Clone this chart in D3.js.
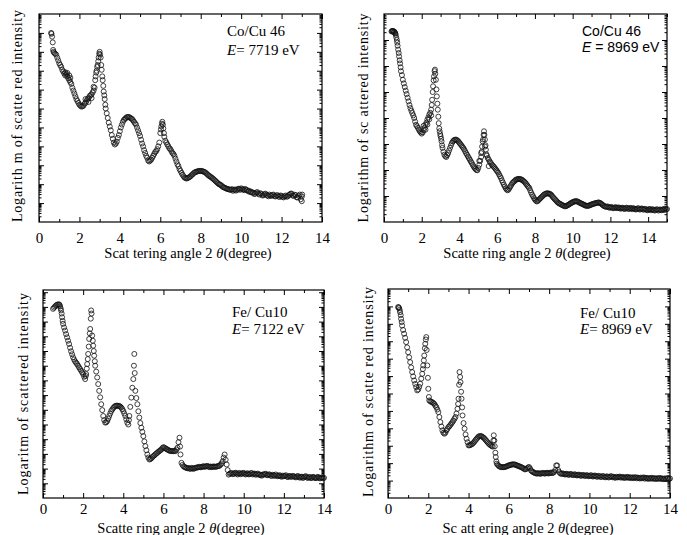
<!DOCTYPE html>
<html>
<head>
<meta charset="utf-8">
<script src="https://cdn.jsdelivr.net/npm/d3@7"></script>
<style>
  body { margin: 0; background: #fff; }
  text { font-family: "Liberation Serif", "Times New Roman", serif; fill: #000; }
  .axis path { display: none; }
  .axis line { stroke: #000; stroke-width: 1; }
  .axis text { font-size: 15px; font-family: "Liberation Serif", serif; }
</style>
</head>
<body>
<svg></svg>
<script>

var width = 687;
var height = 535;

// [scattering angle 2theta (deg), log10 of intensity (arb.)]
var coCu7719 = [
  [0.60,10.0],[0.62,9.95],[0.65,9.8],[0.68,9.5],[0.70,9.1],[0.72,9.0],[0.75,8.95],[0.80,8.9],[0.85,8.85],[0.90,8.7],
  [0.95,8.55],[1.00,8.4],[1.05,8.3],[1.10,8.2],[1.15,8.05],[1.20,7.95],[1.25,7.85],[1.30,7.75],[1.30,7.92],[1.35,7.82],
  [1.40,7.7],[1.40,7.88],[1.45,7.6],[1.50,7.5],[1.50,7.75],[1.55,7.4],[1.55,7.62],[1.60,7.3],[1.65,7.1],[1.70,6.95],
  [1.75,6.8],[1.80,6.65],[1.85,6.5],[1.90,6.4],[1.95,6.3],[2.00,6.2],[2.05,6.15],[2.10,6.1],[2.15,6.12],[2.20,6.15],
  [2.25,6.25],[2.30,6.3],[2.30,6.5],[2.35,6.4],[2.40,6.5],[2.45,6.55],[2.45,6.35],[2.50,6.65],[2.55,6.7],[2.60,6.75],
  [2.60,6.55],[2.65,6.85],[2.70,6.95],[2.70,7.15],[2.75,7.1],[2.78,7.5],[2.80,7.7],[2.83,7.9],[2.85,8.0],[2.88,8.2],
  [2.90,8.3],[2.93,8.5],[2.95,8.7],[2.98,8.9],[3.00,9.0],[3.02,8.85],[3.05,8.7],[3.08,8.3],[3.10,8.05],[3.13,7.7],
  [3.15,7.5],[3.18,7.2],[3.20,6.9],[3.23,6.7],[3.25,6.5],[3.28,6.2],[3.30,6.0],[3.35,5.75],[3.40,5.5],[3.45,5.25],
  [3.50,5.05],[3.55,4.85],[3.60,4.6],[3.65,4.4],[3.70,4.2],[3.75,4.1],[3.80,4.15],[3.85,4.25],[3.90,4.45],[3.95,4.6],
  [4.00,4.8],[4.05,5.0],[4.10,5.15],[4.15,5.3],[4.20,5.4],[4.25,5.45],[4.30,5.5],[4.35,5.55],[4.40,5.55],[4.45,5.55],
  [4.50,5.52],[4.55,5.48],[4.60,5.45],[4.65,5.38],[4.70,5.3],[4.75,5.22],[4.80,5.15],[4.85,5.0],[4.90,4.85],[4.95,4.7],
  [5.00,4.55],[5.05,4.35],[5.10,4.15],[5.15,4.0],[5.20,3.8],[5.25,3.65],[5.30,3.5],[5.35,3.4],[5.40,3.25],[5.45,3.2],
  [5.50,3.25],[5.55,3.3],[5.60,3.4],[5.65,3.5],[5.70,3.6],[5.75,3.7],[5.80,3.75],[5.85,3.85],[5.90,4.0],[5.95,4.2],
  [6.00,4.7],[6.03,4.9],[6.05,5.05],[6.08,5.2],[6.10,5.3],[6.13,5.15],[6.15,4.95],[6.18,4.7],[6.20,4.5],[6.25,4.3],
  [6.30,4.2],[6.35,4.1],[6.40,4.0],[6.45,3.9],[6.50,3.85],[6.55,3.75],[6.60,3.65],[6.65,3.6],[6.70,3.5],[6.75,3.35],
  [6.80,3.2],[6.85,3.05],[6.90,2.95],[6.95,2.8],[7.00,2.7],[7.05,2.6],[7.10,2.5],[7.15,2.42],[7.20,2.35],[7.25,2.32],
  [7.30,2.3],[7.35,2.32],[7.40,2.35],[7.45,2.38],[7.50,2.42],[7.55,2.48],[7.60,2.52],[7.65,2.58],[7.70,2.62],[7.75,2.65],
  [7.80,2.66],[7.85,2.68],[7.90,2.7],[7.95,2.7],[8.00,2.7],[8.05,2.7],[8.10,2.68],[8.15,2.66],[8.20,2.64],[8.25,2.6],
  [8.30,2.55],[8.35,2.5],[8.40,2.45],[8.45,2.42],[8.50,2.38],[8.55,2.34],[8.60,2.3],[8.65,2.25],[8.70,2.2],[8.75,2.15],
  [8.80,2.1],[8.85,2.05],[8.90,2.0],[8.95,1.98],[9.00,1.95],[9.05,1.9],[9.10,1.85],[9.15,1.83],[9.20,1.8],[9.25,1.78],
  [9.30,1.75],[9.35,1.74],[9.40,1.72],[9.45,1.71],[9.50,1.7],[9.55,1.74],[9.60,1.65],[9.65,1.7],[9.70,1.72],[9.75,1.66],
  [9.80,1.7],[9.85,1.76],[9.90,1.75],[9.95,1.7],[10.00,1.78],[10.05,1.74],[10.10,1.72],[10.15,1.68],[10.20,1.75],[10.25,1.7],
  [10.30,1.68],[10.35,1.62],[10.40,1.65],[10.45,1.58],[10.50,1.6],[10.55,1.55],[10.60,1.55],[10.65,1.48],[10.70,1.5],[10.75,1.56],
  [10.80,1.58],[10.85,1.5],[10.90,1.45],[10.95,1.52],[11.00,1.48],[11.05,1.4],[11.10,1.42],[11.15,1.47],[11.20,1.5],[11.25,1.44],
  [11.30,1.4],[11.35,1.36],[11.40,1.45],[11.45,1.4],[11.50,1.38],[11.55,1.43],[11.60,1.45],[11.65,1.37],[11.70,1.35],[11.75,1.4],
  [11.80,1.42],[11.85,1.35],[11.90,1.32],[11.95,1.4],[12.00,1.38],[12.05,1.33],[12.10,1.3],[12.15,1.36],[12.20,1.4],[12.25,1.34],
  [12.30,1.35],[12.35,1.42],[12.40,1.45],[12.45,1.5],[12.50,1.5],[12.55,1.4],[12.60,1.38],[12.65,1.44],[12.70,1.42],[12.75,1.3],
  [12.80,1.3],[12.85,1.38],[12.90,1.45],[12.95,1.2],[13.00,1.35],[13.00,1.1],[13.02,1.45]
];

var coCu8969 = [
  [0.40,7.33],[0.43,7.35],[0.45,7.33],[0.48,7.35],[0.50,7.33],[0.53,7.3],[0.55,7.32],[0.58,7.28],[0.60,7.25],[0.62,7.2],
  [0.65,7.1],[0.68,7.0],[0.70,6.9],[0.72,6.78],[0.75,6.63],[0.78,6.5],[0.80,6.37],[0.83,6.22],[0.85,6.1],[0.88,5.95],
  [0.90,5.8],[0.95,5.65],[1.00,5.47],[1.05,5.33],[1.10,5.19],[1.15,5.05],[1.20,4.92],[1.25,4.78],[1.30,4.64],[1.35,4.5],
  [1.40,4.38],[1.45,4.28],[1.50,4.19],[1.55,4.1],[1.60,4.0],[1.65,3.86],[1.70,3.74],[1.75,3.68],[1.80,3.62],[1.85,3.55],
  [1.90,3.49],[1.95,3.44],[2.00,3.4],[2.05,3.45],[2.10,3.53],[2.10,3.7],[2.15,3.62],[2.20,3.74],[2.20,3.55],[2.25,3.82],
  [2.30,3.94],[2.30,3.75],[2.35,4.02],[2.40,4.13],[2.40,3.95],[2.45,4.2],[2.50,4.32],[2.50,4.1],[2.53,4.5],[2.55,4.7],
  [2.58,5.0],[2.60,5.22],[2.63,5.45],[2.65,5.6],[2.68,5.8],[2.70,5.86],[2.72,5.7],[2.75,5.47],[2.78,5.1],[2.80,4.83],
  [2.83,4.55],[2.85,4.32],[2.88,4.05],[2.90,3.8],[2.93,3.6],[2.95,3.49],[2.98,3.38],[3.00,3.3],[3.03,3.2],[3.05,3.1],
  [3.08,2.95],[3.10,2.85],[3.15,2.7],[3.20,2.59],[3.25,2.53],[3.30,2.5],[3.35,2.57],[3.40,2.65],[3.45,2.75],[3.50,2.85],
  [3.55,2.95],[3.60,3.04],[3.65,3.1],[3.70,3.14],[3.75,3.16],[3.80,3.17],[3.85,3.16],[3.90,3.13],[3.95,3.09],[4.00,3.04],
  [4.05,3.0],[4.10,2.95],[4.15,2.9],[4.20,2.85],[4.25,2.79],[4.30,2.72],[4.35,2.65],[4.40,2.59],[4.45,2.52],[4.50,2.46],
  [4.55,2.4],[4.60,2.33],[4.65,2.27],[4.70,2.2],[4.75,2.14],[4.80,2.08],[4.85,2.04],[4.90,2.0],[4.95,1.99],[5.00,2.08],
  [5.05,2.2],[5.05,2.35],[5.10,2.35],[5.15,2.5],[5.15,2.65],[5.18,2.7],[5.20,2.9],[5.23,3.1],[5.25,3.17],[5.28,3.35],
  [5.30,3.49],[5.32,3.35],[5.35,3.17],[5.35,2.9],[5.38,2.95],[5.40,2.78],[5.43,2.6],[5.45,2.55],[5.50,2.46],[5.55,2.4],
  [5.55,2.15],[5.60,2.33],[5.65,2.28],[5.70,2.22],[5.75,2.18],[5.80,2.14],[5.85,2.1],[5.90,2.05],[5.95,2.0],[6.00,1.95],
  [6.05,1.9],[6.10,1.83],[6.15,1.76],[6.20,1.69],[6.25,1.6],[6.30,1.52],[6.35,1.44],[6.40,1.37],[6.45,1.3],[6.50,1.25],
  [6.55,1.22],[6.60,1.25],[6.65,1.31],[6.70,1.37],[6.75,1.43],[6.80,1.49],[6.85,1.53],[6.90,1.56],[6.95,1.6],[7.00,1.63],
  [7.05,1.64],[7.10,1.65],[7.15,1.66],[7.20,1.65],[7.25,1.64],[7.30,1.63],[7.35,1.6],[7.40,1.57],[7.45,1.54],[7.50,1.5],
  [7.55,1.45],[7.60,1.4],[7.65,1.35],[7.70,1.31],[7.75,1.22],[7.80,1.13],[7.85,1.05],[7.90,0.99],[7.95,0.92],[8.00,0.86],
  [8.05,0.82],[8.10,0.79],[8.15,0.81],[8.20,0.85],[8.25,0.89],[8.30,0.92],[8.35,0.96],[8.40,0.99],[8.45,1.03],[8.50,1.06],
  [8.55,1.08],[8.60,1.1],[8.65,1.1],[8.70,1.1],[8.75,1.09],[8.80,1.08],[8.85,1.05],[8.90,1.01],[8.95,0.96],[9.00,0.92],
  [9.05,0.88],[9.10,0.84],[9.15,0.8],[9.20,0.76],[9.25,0.73],[9.30,0.71],[9.35,0.69],[9.40,0.67],[9.45,0.65],[9.50,0.63],
  [9.55,0.62],[9.60,0.6],[9.65,0.61],[9.70,0.63],[9.75,0.65],[9.80,0.67],[9.85,0.7],[9.90,0.72],[9.95,0.74],[10.00,0.76],
  [10.05,0.78],[10.10,0.79],[10.15,0.8],[10.20,0.8],[10.25,0.79],[10.30,0.77],[10.35,0.75],[10.40,0.73],[10.45,0.71],[10.50,0.7],
  [10.55,0.68],[10.60,0.66],[10.65,0.64],[10.70,0.63],[10.75,0.62],[10.80,0.62],[10.85,0.63],[10.90,0.64],[10.95,0.66],[11.00,0.67],
  [11.05,0.69],[11.10,0.7],[11.15,0.71],[11.20,0.72],[11.25,0.73],[11.30,0.74],[11.35,0.75],[11.40,0.75],[11.45,0.73],[11.50,0.71],
  [11.55,0.68],[11.60,0.65],[11.65,0.62],[11.70,0.6],[11.75,0.59],[11.80,0.58],[11.85,0.6],[11.90,0.57],[11.95,0.55],[12.00,0.56],
  [12.05,0.58],[12.10,0.55],[12.15,0.53],[12.20,0.54],[12.25,0.57],[12.30,0.56],[12.35,0.53],[12.40,0.55],[12.45,0.56],[12.50,0.53],
  [12.55,0.51],[12.60,0.54],[12.65,0.55],[12.70,0.52],[12.75,0.5],[12.80,0.52],[12.85,0.55],[12.90,0.54],[12.95,0.5],[13.00,0.51],
  [13.05,0.54],[13.10,0.53],[13.15,0.49],[13.20,0.53],[13.25,0.52],[13.30,0.5],[13.35,0.48],[13.40,0.5],[13.45,0.53],[13.50,0.52],
  [13.55,0.48],[13.60,0.49],[13.65,0.52],[13.70,0.51],[13.75,0.47],[13.80,0.5],[13.85,0.5],[13.90,0.48],[13.95,0.45],[14.00,0.47],
  [14.05,0.5],[14.10,0.49],[14.15,0.45],[14.20,0.48],[14.25,0.49],[14.30,0.46],[14.35,0.44],[14.40,0.46],[14.45,0.49],[14.50,0.48],
  [14.55,0.44],[14.60,0.47],[14.65,0.48],[14.70,0.45],[14.75,0.47],[14.80,0.49],[14.85,0.46],[14.90,0.52],[14.95,0.48],[15.00,0.5]
];

var feCu7122 = [
  [0.50,12.87],[0.55,12.95],[0.60,13.03],[0.65,13.1],[0.70,13.15],[0.75,13.17],[0.80,13.17],[0.83,13.12],[0.85,13.03],[0.88,12.9],
  [0.90,12.76],[0.93,12.55],[0.95,12.3],[0.98,12.05],[1.00,11.85],[1.05,11.6],[1.10,11.39],[1.15,11.15],[1.20,10.93],[1.25,10.7],
  [1.30,10.48],[1.35,10.22],[1.40,9.98],[1.45,9.78],[1.50,9.57],[1.55,9.42],[1.60,9.29],[1.65,9.2],[1.70,9.11],[1.75,9.0],
  [1.80,8.88],[1.85,8.77],[1.90,8.66],[1.95,8.55],[2.00,8.43],[2.05,8.25],[2.10,8.09],[2.13,8.3],[2.15,8.43],[2.18,8.8],
  [2.20,9.11],[2.23,9.45],[2.25,9.8],[2.28,10.3],[2.30,10.82],[2.33,11.2],[2.35,11.5],[2.38,12.2],[2.40,12.76],[2.42,12.55],
  [2.45,11.05],[2.48,10.7],[2.50,10.36],[2.53,10.0],[2.55,9.68],[2.58,9.3],[2.60,9.0],[2.65,8.6],[2.70,8.2],[2.75,7.75],
  [2.80,7.29],[2.85,6.85],[2.90,6.38],[2.95,5.98],[3.00,5.58],[3.05,5.3],[3.10,5.13],[3.15,5.15],[3.20,5.24],[3.25,5.4],
  [3.30,5.58],[3.35,5.75],[3.40,5.92],[3.45,6.02],[3.50,6.12],[3.55,6.2],[3.60,6.26],[3.65,6.28],[3.70,6.28],[3.75,6.27],
  [3.80,6.26],[3.85,6.22],[3.90,6.15],[3.95,6.05],[4.00,5.92],[4.05,5.75],[4.10,5.58],[4.15,5.35],[4.20,5.13],[4.25,5.0],
  [4.28,5.3],[4.30,5.58],[4.35,6.2],[4.40,6.83],[4.45,7.5],[4.50,8.09],[4.53,9.0],[4.55,9.8],[4.57,8.5],[4.60,7.29],
  [4.65,6.8],[4.70,6.38],[4.75,5.9],[4.80,5.47],[4.85,5.1],[4.90,4.78],[4.95,4.5],[5.00,4.21],[5.05,3.85],[5.10,3.53],
  [5.15,3.25],[5.20,2.96],[5.25,2.75],[5.30,2.62],[5.35,2.65],[5.40,2.7],[5.45,2.78],[5.50,2.85],[5.55,2.9],[5.60,2.97],
  [5.65,3.03],[5.70,3.08],[5.75,3.15],[5.80,3.2],[5.85,3.25],[5.90,3.3],[5.95,3.4],[6.00,3.46],[6.05,3.42],[6.10,3.38],
  [6.15,3.33],[6.20,3.3],[6.25,3.25],[6.30,3.22],[6.35,3.2],[6.40,3.19],[6.45,3.2],[6.50,3.18],[6.55,3.2],[6.60,3.19],
  [6.65,3.3],[6.70,3.42],[6.75,3.8],[6.80,4.1],[6.83,3.5],[6.85,2.96],[6.90,2.39],[6.95,2.25],[7.00,2.16],[7.05,2.1],
  [7.10,2.08],[7.15,2.05],[7.20,2.02],[7.25,2.04],[7.30,2.0],[7.35,1.98],[7.40,2.05],[7.45,2.02],[7.50,1.98],[7.55,2.03],
  [7.60,2.05],[7.65,2.07],[7.70,2.08],[7.75,2.1],[7.80,2.12],[7.85,2.09],[7.90,2.1],[7.95,2.14],[8.00,2.16],[8.05,2.12],
  [8.10,2.14],[8.15,2.17],[8.20,2.18],[8.25,2.13],[8.30,2.1],[8.35,2.14],[8.40,2.1],[8.45,2.12],[8.50,2.15],[8.55,2.13],
  [8.60,2.12],[8.65,2.14],[8.70,2.16],[8.75,2.18],[8.80,2.2],[8.85,2.28],[8.90,2.35],[8.95,2.5],[9.00,2.75],[9.05,2.96],
  [9.10,2.6],[9.15,2.28],[9.20,1.9],[9.25,1.59],[9.30,1.65],[9.35,1.68],[9.40,1.7],[9.45,1.62],[9.50,1.64],[9.55,1.69],
  [9.60,1.72],[9.65,1.66],[9.70,1.6],[9.75,1.67],[9.80,1.7],[9.85,1.62],[9.90,1.65],[9.95,1.69],[10.00,1.71],[10.05,1.64],
  [10.10,1.6],[10.15,1.66],[10.20,1.68],[10.25,1.61],[10.30,1.62],[10.35,1.68],[10.40,1.7],[10.45,1.6],[10.50,1.64],[10.55,1.66],
  [10.60,1.58],[10.65,1.63],[10.70,1.66],[10.75,1.58],[10.80,1.6],[10.85,1.55],[10.90,1.52],[10.95,1.6],[11.00,1.59],[11.05,1.62],
  [11.10,1.65],[11.15,1.56],[11.20,1.55],[11.25,1.6],[11.30,1.6],[11.35,1.52],[11.40,1.5],[11.45,1.58],[11.50,1.55],[11.55,1.5],
  [11.60,1.6],[11.65,1.53],[11.70,1.48],[11.75,1.52],[11.80,1.55],[11.85,1.47],[11.90,1.45],[11.95,1.52],[12.00,1.48],[12.05,1.5],
  [12.10,1.55],[12.15,1.46],[12.20,1.42],[12.25,1.48],[12.30,1.5],[12.35,1.44],[12.40,1.45],[12.45,1.5],[12.50,1.48],[12.55,1.43],
  [12.60,1.4],[12.65,1.46],[12.70,1.5],[12.75,1.42],[12.80,1.38],[12.85,1.44],[12.90,1.45],[12.95,1.36],[13.00,1.41],[13.05,1.46],
  [13.10,1.48],[13.15,1.4],[13.20,1.36],[13.25,1.42],[13.30,1.42],[13.35,1.35],[13.40,1.38],[13.45,1.44],[13.50,1.41],[13.55,1.36],
  [13.60,1.35],[13.65,1.4],[13.70,1.44],[13.75,1.37],[13.80,1.33],[13.85,1.38],[13.90,1.4],[13.95,1.34],[14.00,1.37]
];

var feCu8969 = [
  [0.50,10.96],[0.53,10.95],[0.55,10.9],[0.58,10.8],[0.60,10.67],[0.63,10.5],[0.65,10.29],[0.68,10.1],[0.70,9.9],[0.75,9.65],
  [0.80,9.43],[0.85,9.2],[0.90,8.95],[0.95,8.65],[1.00,8.37],[1.05,8.08],[1.10,7.8],[1.15,7.5],[1.20,7.23],[1.25,6.98],
  [1.30,6.75],[1.35,6.55],[1.40,6.37],[1.45,6.18],[1.50,6.23],[1.55,6.38],[1.60,6.56],[1.65,6.85],[1.70,7.13],[1.73,7.4],
  [1.75,7.61],[1.78,7.9],[1.80,8.18],[1.83,8.6],[1.85,8.85],[1.88,9.1],[1.90,9.24],[1.92,8.5],[1.95,7.61],[1.98,6.9],
  [2.00,6.27],[2.03,5.8],[2.05,5.6],[2.10,5.55],[2.15,5.52],[2.20,5.5],[2.25,5.45],[2.30,5.4],[2.35,5.3],[2.40,5.22],
  [2.45,5.08],[2.50,4.93],[2.55,4.65],[2.60,4.36],[2.65,4.1],[2.70,3.88],[2.75,3.75],[2.80,3.69],[2.85,3.75],[2.90,3.88],
  [2.95,3.97],[3.00,4.07],[3.05,4.12],[3.10,4.2],[3.15,4.28],[3.20,4.36],[3.25,4.45],[3.30,4.55],[3.35,4.65],[3.40,4.85],
  [3.45,5.12],[3.48,5.4],[3.50,5.7],[3.53,6.5],[3.55,7.23],[3.58,6.95],[3.60,6.65],[3.63,6.1],[3.65,5.7],[3.68,5.2],
  [3.70,4.74],[3.75,4.3],[3.80,3.98],[3.85,3.65],[3.90,3.4],[3.95,3.2],[4.00,3.02],[4.05,3.03],[4.10,3.05],[4.15,3.08],
  [4.20,3.12],[4.25,3.18],[4.30,3.25],[4.35,3.33],[4.40,3.4],[4.45,3.47],[4.50,3.53],[4.55,3.55],[4.60,3.56],[4.65,3.54],
  [4.70,3.5],[4.75,3.46],[4.80,3.4],[4.85,3.33],[4.90,3.26],[4.95,3.19],[5.00,3.12],[5.05,3.07],[5.10,3.02],[5.15,2.98],
  [5.20,2.95],[5.23,3.3],[5.25,3.6],[5.28,3.3],[5.30,2.97],[5.33,2.6],[5.35,2.35],[5.38,2.1],[5.40,1.97],[5.45,1.9],
  [5.50,1.84],[5.55,1.8],[5.60,1.78],[5.65,1.77],[5.70,1.77],[5.75,1.77],[5.80,1.78],[5.85,1.8],[5.90,1.82],[5.95,1.85],
  [6.00,1.87],[6.05,1.89],[6.10,1.91],[6.15,1.92],[6.20,1.93],[6.25,1.93],[6.30,1.92],[6.35,1.9],[6.40,1.87],[6.45,1.85],
  [6.50,1.83],[6.55,1.8],[6.60,1.78],[6.65,1.75],[6.70,1.72],[6.75,1.68],[6.80,1.64],[6.85,1.66],[6.90,1.7],[6.95,1.75],
  [7.00,1.78],[7.05,1.7],[7.10,1.58],[7.15,1.53],[7.20,1.49],[7.25,1.46],[7.30,1.43],[7.35,1.41],[7.40,1.4],[7.45,1.42],
  [7.50,1.42],[7.55,1.39],[7.60,1.4],[7.65,1.43],[7.70,1.44],[7.75,1.41],[7.80,1.4],[7.85,1.44],[7.90,1.45],[7.95,1.41],
  [8.00,1.42],[8.05,1.45],[8.10,1.46],[8.15,1.43],[8.20,1.45],[8.25,1.5],[8.30,1.6],[8.35,1.87],[8.40,1.87],[8.45,1.6],
  [8.50,1.49],[8.55,1.42],[8.60,1.38],[8.65,1.41],[8.70,1.4],[8.75,1.36],[8.80,1.35],[8.85,1.39],[8.90,1.38],[8.95,1.33],
  [9.00,1.34],[9.05,1.38],[9.10,1.37],[9.15,1.32],[9.20,1.32],[9.25,1.36],[9.30,1.35],[9.35,1.3],[9.40,1.3],[9.45,1.34],
  [9.50,1.33],[9.55,1.28],[9.60,1.28],[9.65,1.32],[9.70,1.32],[9.75,1.27],[9.80,1.27],[9.85,1.31],[9.90,1.3],[9.95,1.25],
  [10.00,1.26],[10.05,1.3],[10.10,1.3],[10.15,1.24],[10.20,1.24],[10.25,1.29],[10.30,1.28],[10.35,1.23],[10.40,1.22],[10.45,1.27],
  [10.50,1.26],[10.55,1.21],[10.60,1.21],[10.65,1.26],[10.70,1.25],[10.75,1.2],[10.80,1.19],[10.85,1.24],[10.90,1.23],[10.95,1.18],
  [11.00,1.2],[11.05,1.25],[11.10,1.24],[11.15,1.19],[11.20,1.22],[11.25,1.17],[11.30,1.17],[11.35,1.22],[11.40,1.18],[11.45,1.21],
  [11.50,1.23],[11.55,1.17],[11.60,1.2],[11.65,1.21],[11.70,1.15],[11.75,1.19],[11.80,1.16],[11.85,1.2],[11.90,1.21],[11.95,1.15],
  [12.00,1.19],[12.05,1.17],[12.10,1.14],[12.15,1.19],[12.20,1.14],[12.25,1.18],[12.30,1.19],[12.35,1.13],[12.40,1.17],[12.45,1.15],
  [12.50,1.12],[12.55,1.17],[12.60,1.13],[12.65,1.16],[12.70,1.18],[12.75,1.11],[12.80,1.16],[12.85,1.14],[12.90,1.1],[12.95,1.15],
  [13.00,1.11],[13.05,1.13],[13.10,1.16],[13.15,1.1],[13.20,1.14],[13.25,1.12],[13.30,1.09],[13.35,1.14],[13.40,1.1],[13.45,1.13],
  [13.50,1.15],[13.55,1.09],[13.60,1.13],[13.65,1.1],[13.70,1.08],[13.75,1.13],[13.80,1.09],[13.85,1.12],[13.90,1.14],[13.95,1.08],
  [14.00,1.12]
];

var xTickLabels = [0, 2, 4, 6, 8, 10, 12, 14];
var sampleNames = ["Co/Cu 46", "Co/Cu 46", "Fe/ Cu10", "Fe/ Cu10"];
var energies = ["= 7719 eV", " = 8969 eV", "= 7122 eV", "= 8969 eV"];
var yTitles = ["Logarith m of scatte red intensity", "Logarithm of sc attered intensity",
               "Logaritm of scattered  intensity", "Logarithm of scatte red intensity"];
var xTitles = ["Scat tering angle 2 ", "Scatte ring angle 2 ", "Scatte ring angle 2 ", "Sc att ering angle 2 "];

// panel layout (pixels), kept apart from the data
var panels = [
  {data: coCu7719, l: 39, r: 322, t: 14, b: 222, xMax: 14, dec: 11, pad: 10, yl: 22, yc: 116, ylen: 212, xc: 188, xb: 258, nx: 227, n1: 36, n2: 55, fs: 15, sans: false},
  {data: coCu8969, l: 384, r: 667, t: 14, b: 222, xMax: 15, dec: 8, pad: 10, yl: 368, yc: 118, ylen: 209, xc: 527, xb: 258, nx: 582, n1: 36, n2: 52, fs: 14, sans: true},
  {data: feCu7122, l: 43, r: 324, t: 290, b: 498, xMax: 14, dec: 14.15, pad: 5, yl: 28, yc: 394, ylen: 202, xc: 181, xb: 533, nx: 232, n1: 317, n2: 334, fs: 15, sans: false},
  {data: feCu8969, l: 388, r: 670, t: 289, b: 498, xMax: 14, dec: 12, pad: 5, yl: 373, yc: 392, ylen: 210, xc: 528, xb: 533, nx: 580, n1: 318, n2: 334, fs: 15, sans: false}
];

var svg = d3.select('svg')
    .attr('width', width)
    .attr('height', height);

panels.forEach(function(p, i) {
  var g = svg.append('g');

  var x = d3.scaleLinear().domain([0, p.xMax]).range([p.l, p.r]);
  var y = d3.scaleLog().domain([1, Math.pow(10, p.dec)]).range([p.b, p.t]);

  // log ticks: decades are major, 2..9 are minor
  var majors = [], minors = [];
  d3.range(0, Math.ceil(p.dec) + 1).forEach(function(k) {
    var v = Math.pow(10, k);
    if (k > 0 && k < p.dec) majors.push(v);
    d3.range(2, 10).forEach(function(m) {
      if (k + Math.log10(m) < p.dec) minors.push(m * v);
    });
  });
  var xMajor = d3.range(0, p.xMax + 0.1, 2);
  var xMinor = d3.range(1, p.xMax + 0.1, 2);

  g.append('g').attr('class', 'axis').attr('transform', 'translate(' + p.l + ',0)')
    .call(d3.axisLeft(y).tickValues(majors).tickSize(-5).tickFormat(''));
  g.append('g').attr('class', 'axis').attr('transform', 'translate(' + p.l + ',0)')
    .call(d3.axisLeft(y).tickValues(minors).tickSize(-2.5).tickFormat(''));
  g.append('g').attr('class', 'axis').attr('transform', 'translate(' + p.r + ',0)')
    .call(d3.axisRight(y).tickValues(majors).tickSize(-5).tickFormat(''));
  g.append('g').attr('class', 'axis').attr('transform', 'translate(' + p.r + ',0)')
    .call(d3.axisRight(y).tickValues(minors).tickSize(-2.5).tickFormat(''));

  g.append('g').attr('class', 'axis').attr('transform', 'translate(0,' + p.b + ')')
    .call(d3.axisBottom(x).tickValues(xMajor.filter(function(v) { return xTickLabels.indexOf(v) >= 0; }))
      .tickSize(-5).tickPadding(p.pad).tickFormat(d3.format('d')));
  g.append('g').attr('class', 'axis').attr('transform', 'translate(0,' + p.b + ')')
    .call(d3.axisBottom(x).tickValues(xMinor).tickSize(-3).tickFormat(''));
  g.append('g').attr('class', 'axis').attr('transform', 'translate(0,' + p.t + ')')
    .call(d3.axisTop(x).tickValues(xMajor).tickSize(-5).tickFormat(''));
  g.append('g').attr('class', 'axis').attr('transform', 'translate(0,' + p.t + ')')
    .call(d3.axisTop(x).tickValues(xMinor).tickSize(-3).tickFormat(''));

  g.append('rect')
    .attr('x', p.l).attr('y', p.t)
    .attr('width', p.r - p.l).attr('height', p.b - p.t)
    .attr('fill', 'none').attr('stroke', '#000').attr('stroke-width', 1.2);

  g.append('g').selectAll('circle')
    .data(p.data)
    .enter()
    .append('circle')
    .attr('cx', function(d) { return x(d[0]); })
    .attr('cy', function(d) { return y(Math.pow(10, d[1])); })
    .attr('r', 2.5)
    .attr('fill', 'none')
    .attr('stroke', '#111')
    .attr('stroke-width', 0.8);

  // axis titles
  g.append('text')
    .attr('transform', 'translate(' + p.yl + ',' + p.yc + ') rotate(-90)')
    .attr('text-anchor', 'middle')
    .attr('font-size', 14)
    .attr('textLength', p.ylen).attr('lengthAdjust', 'spacing')
    .text(yTitles[i]);

  var xt = g.append('text')
    .attr('x', p.xc).attr('y', p.xb)
    .attr('text-anchor', 'middle')
    .attr('font-size', 14.5);
  xt.append('tspan').text(xTitles[i]);
  xt.append('tspan').attr('font-style', 'italic').text('θ');
  xt.append('tspan').text('(degree)');

  // sample annotation
  var fam = p.sans ? '"Liberation Sans", Arial, sans-serif' : '"Liberation Serif", serif';
  g.append('text')
    .attr('x', p.nx).attr('y', p.n1)
    .attr('font-size', p.fs).style('font-family', fam)
    .text(sampleNames[i]);
  var et = g.append('text')
    .attr('x', p.nx).attr('y', p.n2)
    .attr('font-size', p.fs).style('font-family', fam);
  et.append('tspan').attr('font-style', 'italic').text('E');
  et.append('tspan').text(energies[i]);
});

</script>
</body>
</html>
